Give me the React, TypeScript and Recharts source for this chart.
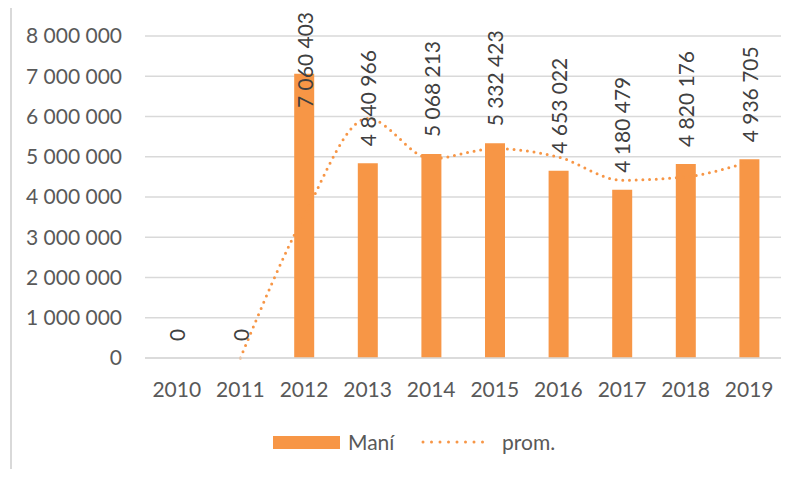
import React from 'react';
import { ComposedChart, Bar, Line, XAxis, YAxis, CartesianGrid, LabelList } from 'recharts';

const years = ['2010', '2011', '2012', '2013', '2014', '2015', '2016', '2017', '2018', '2019'];
const mani = [0, 0, 7060403, 4840966, 5068213, 5332423, 4653022, 4180479, 4820176, 4936705];
const prom = [null, 0, 3530000, 5951000, 4955000, 5200000, 4993000, 4417000, 4500000, 4878000];
const yTicks = [0, 1000000, 2000000, 3000000, 4000000, 5000000, 6000000, 7000000, 8000000];

const ORANGE = '#F79646';
const FONT = 'Lato, "Open Sans", sans-serif';

const data = years.map((year, i) => ({ year, mani: mani[i], prom: prom[i] }));

const fmt = (v: number) => String(v).replace(/\B(?=(\d{3})+(?!\d))/g, ' ');

// rotated value label above each bar top, pushed down when it would leave the chart
const BarValueLabel = (props: any) => {
  const { x, y, value } = props;
  if (value == null) return null;
  const start = Math.max(y - 17, 108);
  return (
    <text
      x={x}
      y={start}
      transform={`rotate(-90 ${x} ${start})`}
      textAnchor="start"
      dominantBaseline="central"
      fill="#404040"
      fontSize={21}
      fontFamily={FONT}
    >
      {fmt(value)}
    </text>
  );
};

export default function App() {
  return (
    <div style={{ position: 'relative', width: 798, height: 477, margin: -8, background: '#fff', overflow: 'hidden' }}>
      <div
        style={{
          position: 'absolute',
          left: 10,
          top: 6,
          width: 820,
          height: 500,
          borderLeft: '2px solid #d9d9d9',
          borderTop: '2px solid #d9d9d9',
        }}
      />
      <div style={{ position: 'absolute', left: 0, top: 0 }}>
        <ComposedChart
          width={798}
          height={477}
          data={data}
          margin={{ top: 36, right: 17, left: 0, bottom: 79 }}
        >
          <CartesianGrid vertical={false} stroke="#d9d9d9" strokeWidth={1.5} />
          <XAxis
            dataKey="year"
            height={40}
            axisLine={{ stroke: '#d9d9d9', strokeWidth: 1.5 }}
            tickLine={false}
            tickSize={0}
            tickMargin={24}
            tick={{ fill: '#595959', fontSize: 21, fontFamily: FONT }}
          />
          <YAxis
            width={145}
            domain={[0, 8000000]}
            ticks={yTicks}
            axisLine={false}
            tickLine={false}
            tickSize={0}
            tickMargin={23}
            tickFormatter={fmt}
            tick={{ fill: '#595959', fontSize: 21, fontFamily: FONT }}
          />
          <Line
            dataKey="prom"
            type="monotone"
            stroke={ORANGE}
            strokeWidth={3}
            strokeDasharray="0 6.7"
            strokeLinecap="round"
            dot={false}
            activeDot={false}
            isAnimationActive={false}
          />
          <Bar dataKey="mani" fill={ORANGE} barSize={20} isAnimationActive={false} />
          {/* invisible carrier for the value labels so zero values get one too */}
          <Line
            dataKey="mani"
            stroke="none"
            dot={false}
            activeDot={false}
            legendType="none"
            isAnimationActive={false}
          >
            <LabelList dataKey="mani" content={BarValueLabel} />
          </Line>
        </ComposedChart>
      </div>
      <div
        style={{
          position: 'absolute',
          top: 428,
          left: 0,
          width: 798,
          fontFamily: FONT,
          fontSize: 21,
          color: '#595959',
        }}
      >
        <div style={{ position: 'absolute', left: 273, top: 8, width: 67, height: 13, background: ORANGE }} />
        <span style={{ position: 'absolute', left: 348, top: 0, lineHeight: '28px' }}>Maní</span>
        <svg style={{ position: 'absolute', left: 420, top: 8 }} width={74} height={12}>
          <line
            x1={3}
            y1={6}
            x2={71}
            y2={6}
            stroke={ORANGE}
            strokeWidth={3}
            strokeDasharray="0 8.5"
            strokeLinecap="round"
          />
        </svg>
        <span style={{ position: 'absolute', left: 502, top: 0, lineHeight: '28px' }}>prom.</span>
      </div>
    </div>
  );
}
